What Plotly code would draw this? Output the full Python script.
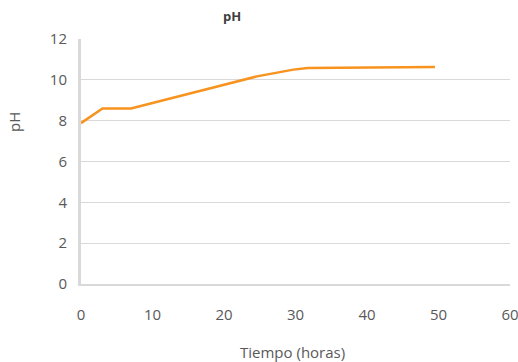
import plotly.graph_objects as go

tiempo = [0, 3, 7, 24.6, 29.7, 31.7, 49.5]
ph = [7.88, 8.6, 8.6, 10.17, 10.5, 10.58, 10.63]
x_ticks = [0, 10, 20, 30, 40, 50, 60]
y_ticks = [0, 2, 4, 6, 8, 10, 12]

W, H = 518, 362
L, R, T, B = 81, 8, 39, 78
PW, PH = W - L - R, H - T - B


def px(x):
    return (x - L) / PW


def py(y):
    return (H - B - y) / PH


font = "Open Sans, Noto Sans, sans-serif"
fig = go.Figure()
fig.add_trace(go.Scatter(x=tiempo, y=ph, mode="lines",
                         line=dict(color="#F7931E", width=2.5), showlegend=False))

fig.update_layout(
    template="none",
    width=W, height=H,
    margin=dict(l=L, r=R, t=T, b=B, autoexpand=False),
    paper_bgcolor="white", plot_bgcolor="white",
    font=dict(family=font, color="#595959", size=15),
    xaxis=dict(range=[0, 60], tickvals=x_ticks, showgrid=False, zeroline=False,
               showline=True, linecolor="#D9D9D9", linewidth=2, automargin=False,
               ticks="", ticklabelstandoff=16, ticklabeloverflow="allow",
               tickfont=dict(size=15, color="#595959")),
    yaxis=dict(range=[0, 12], tickvals=y_ticks, showgrid=True, gridcolor="#D9D9D9",
               gridwidth=1, zeroline=False, showline=True, linecolor="#D9D9D9",
               linewidth=3, ticks="", ticklabelstandoff=8, automargin=False,
               ticklabeloverflow="allow",
               tickfont=dict(size=15, color="#595959")),
    annotations=[
        dict(text="<b>pH</b>", x=px(232), y=py(16), xref="paper", yref="paper",
             showarrow=False, xanchor="center", yanchor="middle",
             font=dict(size=13, color="#404040", family=font)),
        dict(text="pH", x=px(14), y=py(122), xref="paper", yref="paper",
             textangle=-90, showarrow=False, xanchor="center", yanchor="middle",
             font=dict(size=15, color="#595959", family=font)),
        dict(text="Tiempo (horas)", x=px(292), y=py(352), xref="paper", yref="paper",
             showarrow=False, xanchor="center", yanchor="middle",
             font=dict(size=15, color="#595959", family=font)),
    ],
)

fig.write_html("out.html", config={"displayModeBar": False},
               post_script="document.body.style.margin='0';")
